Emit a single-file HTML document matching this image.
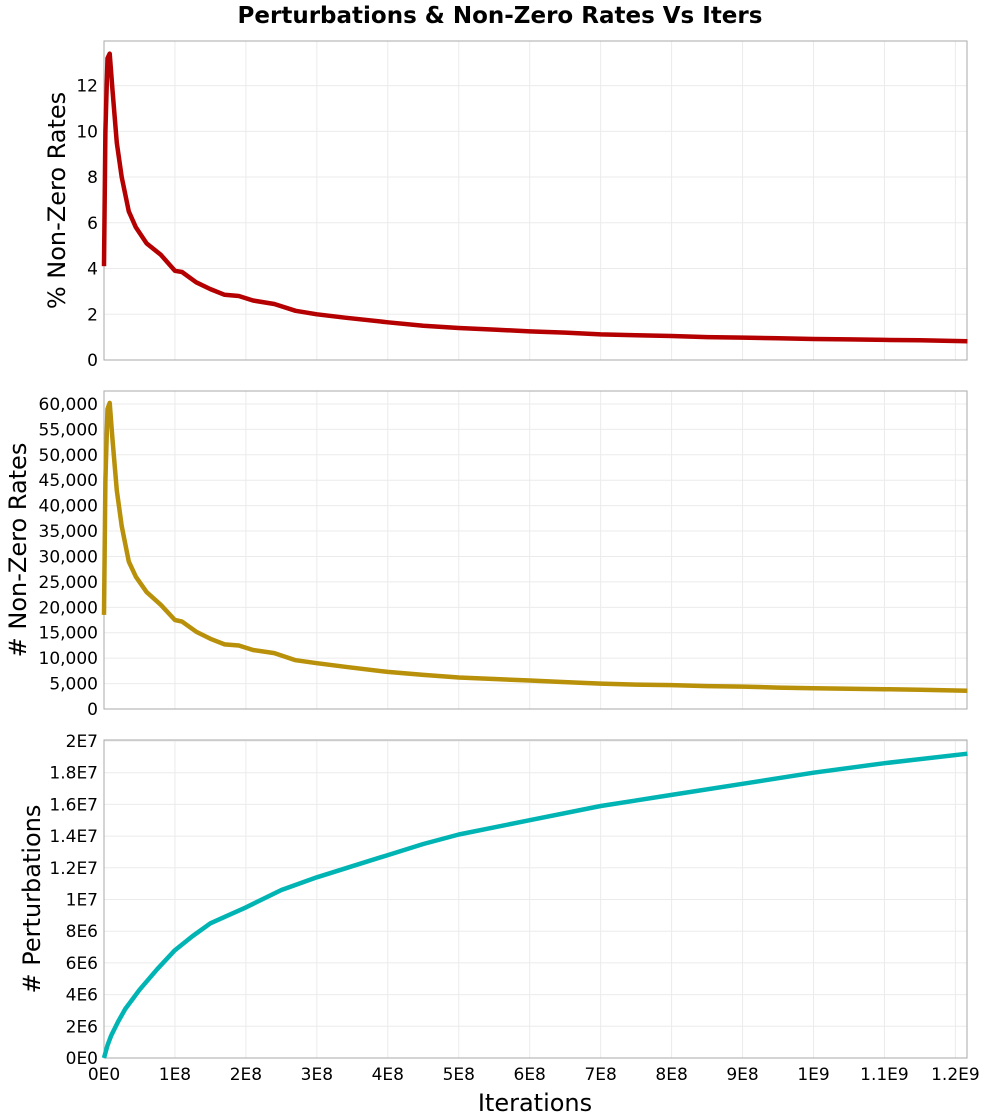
<!DOCTYPE html>
<html><head><meta charset="utf-8"><style>
body{margin:0;background:#fff;}
svg{display:block;font-family:"DejaVu Sans","Liberation Sans",sans-serif;}
</style></head><body>
<svg id="chart" width="1000" height="1120">
<text x="500" y="23" text-anchor="middle" font-size="23" font-weight="bold">Perturbations &amp; Non-Zero Rates Vs Iters</text>
</svg>
<script>
const xs=[0,0.02,0.05,0.08,0.12,0.18,0.25,0.35,0.45,0.6,0.8,1.0,1.1,1.3,1.5,1.7,1.9,2.1,2.4,2.7,3.0,3.4,4.0,4.5,5.0,5.5,6.0,6.5,7.0,7.5,8.0,8.5,9.0,9.5,10.0,10.5,11.0,11.5,12.17];
const pctValues=[4.1,10,13.2,13.4,11.8,9.5,8,6.5,5.8,5.1,4.6,3.9,3.85,3.4,3.1,2.85,2.8,2.6,2.45,2.15,2.0,1.85,1.65,1.5,1.4,1.33,1.25,1.2,1.12,1.08,1.05,1.0,0.98,0.95,0.92,0.9,0.88,0.86,0.82];
const countValues=[18500,45000,59000,60200,53000,43000,36000,29000,26000,23000,20500,17500,17200,15200,13800,12700,12500,11600,11000,9600,9000,8300,7300,6700,6200,5900,5600,5300,5000,4800,4700,4500,4400,4200,4100,4000,3900,3800,3600];
const pxs=[0,0.05,0.1,0.2,0.3,0.4,0.5,0.75,1.0,1.25,1.5,1.75,2.0,2.5,3.0,3.5,4.0,4.5,5.0,6.0,7.0,8.0,9.0,10.0,11.0,12.17];
const pertValues=[0,0.8e6,1.4e6,2.3e6,3.1e6,3.7e6,4.3e6,5.6e6,6.8e6,7.7e6,8.5e6,9.0e6,9.5e6,10.6e6,11.4e6,12.1e6,12.8e6,13.5e6,14.1e6,15.0e6,15.9e6,16.6e6,17.3e6,18.0e6,18.6e6,19.2e6];
const xTickLabels=["0E0","1E8","2E8","3E8","4E8","5E8","6E8","7E8","8E8","9E8","1E9","1.1E9","1.2E9"];
const pctTicks=[0,2,4,6,8,10,12];
const countTicks=[0,5000,10000,15000,20000,25000,30000,35000,40000,45000,50000,55000,60000];
const pertTicks=[0,2e6,4e6,6e6,8e6,10e6,12e6,14e6,16e6,18e6,20e6];
const pertLabels=["0E0","2E6","4E6","6E6","8E6","1E7","1.2E7","1.4E7","1.6E7","1.8E7","2E7"];

const NS="http://www.w3.org/2000/svg";
const svg=document.getElementById('chart');
const L=104,R=967;
const xScale=v=>L+v*70.95;
function el(t,a,p){const e=document.createElementNS(NS,t);for(const k in a)e.setAttribute(k,a[k]);(p||svg).appendChild(e);return e;}
function panel(name,top,bottom,yMax,ticks,labels,xv,yv,color,title,titleX,showX){
  const g=el('g',{});
  
  
  const ys=v=>bottom-v/yMax*(bottom-top);
  for(let i=0;i<=12;i++){const x=xScale(i);el('line',{x1:x,x2:x,y1:top,y2:bottom,stroke:'#ebebeb','stroke-width':1},g);}
  ticks.forEach((t,i)=>{const y=ys(t);el('line',{x1:L,x2:R,y1:y,y2:y,stroke:'#ebebeb','stroke-width':1},g);
    const tx=el('text',{x:L-6,y:y+6,'text-anchor':'end','font-size':17},g);tx.textContent=labels[i];
    
    });
  el('rect',{x:L,y:top,width:R-L,height:bottom-top,fill:'none',stroke:'#aaa','stroke-width':1},g);
  const d=xv.map((x,i)=>(i?'L':'M')+xScale(x).toFixed(1)+','+ys(yv[i]).toFixed(1)).join(' ');
  const p=el('path',{d:d,fill:'none',stroke:color,'stroke-width':4.5,'stroke-linejoin':'round'},g);
  
  
  const cy=(top+bottom)/2;
  const tt=el('text',{x:titleX,y:cy,'text-anchor':'middle','font-size':24,transform:`rotate(-90 ${titleX} ${cy})`},g);
  tt.textContent=title;
  
  
  if(showX){xTickLabels.forEach((l,i)=>{const t=el('text',{x:xScale(i),y:bottom+22,'text-anchor':'middle','font-size':17},g);t.textContent=l;
    
    });
    const xt=el('text',{x:535,y:bottom+53,'text-anchor':'middle','font-size':24},g);xt.textContent='Iterations';
    
    }
}
panel('pct',41,360,13.95,pctTicks,pctTicks.map(String),xs,pctValues,'#b40000','% Non-Zero Rates',65,false);
panel('count',391,709,62550,countTicks,countTicks.map(v=>v.toLocaleString('en-US')),xs,countValues,'#b8900a','# Non-Zero Rates',26,false);
panel('pert',740,1058,2.0063e7,pertTicks,pertLabels,pxs,pertValues,'#00b4b4','# Perturbations',40,true);
</script>
</body></html>
